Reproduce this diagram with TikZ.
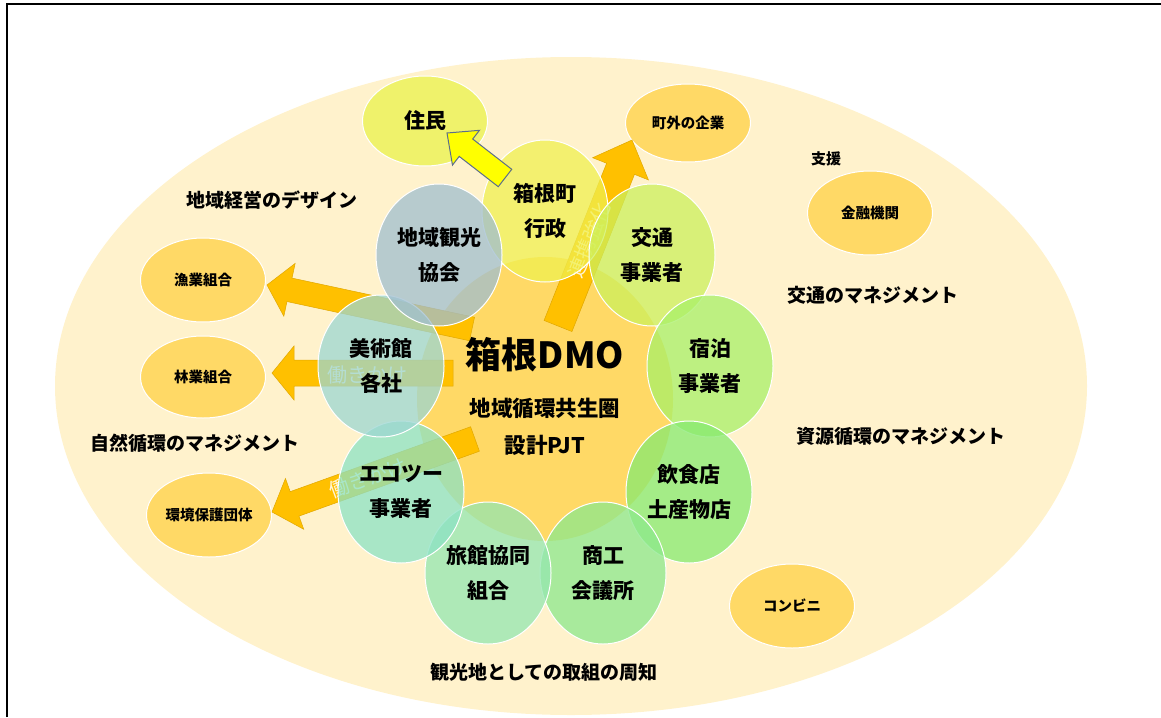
\documentclass[tikz,border=0pt]{standalone}
\usepackage{fontspec}
\setmainfont{Noto Sans CJK JP}
\usetikzlibrary{calc,shapes.geometric}
\definecolor{FieldClr}{HTML}{FFF2CC}
\definecolor{CoreClr}{HTML}{FFD966}
\definecolor{PartnerClr}{HTML}{FFD966}
\definecolor{ResidentClr}{HTML}{EFF26B}
\definecolor{ArrowClr}{HTML}{FFC000}
\definecolor{ArrowEdge}{HTML}{E0A800}
\definecolor{HintClr}{HTML}{FFFF00}
\definecolor{HintEdge}{HTML}{5B6E8C}
\definecolor{GyoseiClr}{HTML}{F0F050}
\definecolor{KotsuClr}{HTML}{CCF05C}
\definecolor{ShukuClr}{HTML}{A8F068}
\definecolor{InshokuClr}{HTML}{86EA70}
\definecolor{ShokoClr}{HTML}{8CE88C}
\definecolor{RyokanClr}{HTML}{94E6B0}
\definecolor{EcoClr}{HTML}{8CE2C4}
\definecolor{BijutsuClr}{HTML}{9CD6D2}
\definecolor{KankoClr}{HTML}{A0BED0}

% block arrow: [style]{tail}{tip}{shaft half width}{head half width}{head length}
\newcommand{\blockarrow}[6][]{%
  \coordinate (neck) at ($(#3)!#6!(#2)$);
  \path[#1] ($(#2)!#4!90:(#3)$) -- ($(neck)!#4!90:(#3)$) -- ($(neck)!#5!90:(#3)$) -- (#3)
    -- ($(neck)!#5!-90:(#3)$) -- ($(neck)!#4!-90:(#3)$) -- ($(#2)!#4!-90:(#3)$) -- cycle;
}

\tikzset{
  member/.style={ellipse, draw=white, line width=1pt, minimum width=126pt, minimum height=142pt,
    inner sep=0pt, fill opacity=0.75, text opacity=1, align=center, font=\bfseries\fontsize{21}{35}\selectfont},
  partner/.style={ellipse, draw=white, line width=1pt, fill=PartnerClr, minimum width=125pt,
    minimum height=84pt, inner sep=0pt, font=\bfseries\fontsize{14.5}{18}\selectfont},
  themelabel/.style={font=\bfseries\fontsize{19}{22}\selectfont},
  pushtext/.style={text=white, text opacity=0.85, font=\fontsize{20}{22}\selectfont},
  orangearrow/.style={fill=ArrowClr, draw=ArrowEdge, line width=0.5pt},
  hintarrow/.style={fill=HintClr, draw=HintEdge, line width=1pt},
}

\begin{document}
\begin{tikzpicture}[x=1pt,y=-1pt]
\useasboundingbox (0,0) rectangle (1161,717);

% field
\fill[FieldClr] (571,386) ellipse [x radius=516, y radius=329];
\draw[line width=2pt] (7,717) -- (7,4) -- (1161,4);

% partners around
\node[partner, fill=ResidentClr, minimum height=90pt, font=\bfseries\fontsize{21}{24}\selectfont] (jumin) at (425,121) {住民};
\node[partner, minimum height=78pt] (kigyo) at (688,123) {町外の企業};
\node[partner] (kinyu) at (870,213) {金融機関};
\node[partner] (conv) at (792,606) {コンビニ};
\node[partner] (gyogyo) at (203,280) {漁業組合};
\node[partner, minimum height=82pt] (ringyo) at (203,377) {林業組合};
\node[partner] (kankyo) at (209,515) {環境保護団体};

% core
\node[ellipse, fill=CoreClr, minimum width=256pt, minimum height=284pt] (dmo) at (545,399) {};

% arrows under the ring
\coordinate (kigyo-tail) at (558,326);
\coordinate (kigyo-tip) at (632,140);
\coordinate (gyogyo-tail) at (472,329);
\coordinate (gyogyo-tip) at (267,285);
\coordinate (ringyo-tail) at (453,373);
\coordinate (ringyo-tip) at (272,373);
\coordinate (kankyo-tail) at (475,439);
\coordinate (kankyo-tip) at (272,512);
\blockarrow[orangearrow]{kigyo-tail}{kigyo-tip}{15pt}{30pt}{31pt}
\blockarrow[orangearrow]{gyogyo-tail}{gyogyo-tip}{12pt}{27pt}{23pt}
\blockarrow[orangearrow]{ringyo-tail}{ringyo-tip}{13pt}{27pt}{22pt}
\blockarrow[orangearrow]{kankyo-tail}{kankyo-tip}{13pt}{27pt}{24pt}
\node[pushtext, rotate=68] (renkei) at (589,240) {連携強化};
\node[pushtext] (push1) at (367,375) {働きかけ};
\node[pushtext, rotate=20] (push2) at (368,478) {働きかけ};

% ring of members
\node[member, fill=GyoseiClr] (gyosei) at (545,211) {箱根町\\行政};
\node[member, fill=KotsuClr] (kotsu) at (652,255) {交通\\事業者};
\node[member, fill=ShukuClr] (shuku) at (710,366) {宿泊\\事業者};
\node[member, fill=InshokuClr] (inshoku) at (689,492) {飲食店\\土産物店};
\node[member, fill=ShokoClr] (shoko) at (603,573) {商工\\会議所};
\node[member, fill=RyokanClr] (ryokan) at (488,573) {旅館協同\\組合};
\node[member, fill=EcoClr] (eco) at (401,492) {エコツー\\事業者};
\node[member, fill=BijutsuClr] (bijutsu) at (381,366) {美術館\\各社};
\node[member, fill=KankoClr] (kanko) at (439,255) {地域観光\\協会};

% town to residents
\coordinate (jumin-tail) at (505,178);
\coordinate (jumin-tip) at (447,133);
\blockarrow[hintarrow]{jumin-tail}{jumin-tip}{11pt}{22pt}{24pt}

% core texts
\node[font=\bfseries\fontsize{36}{40}\selectfont] (dmotitle) at (545,355) {箱根DMO};
\node[align=center, font=\bfseries\fontsize{21.5}{37}\selectfont] (dmosub) at (545,427) {地域循環共生圏\\設計PJT};

% themes
\node[themelabel] (design) at (272,200) {地域経営のデザイン};
\node[themelabel] (shizen) at (195,443) {自然循環のマネジメント};
\node[themelabel] (kotsum) at (873,295) {交通のマネジメント};
\node[themelabel] (shigen) at (901,436) {資源循環のマネジメント};
\node[themelabel] (shuchi) at (544,672) {観光地としての取組の周知};
\node[font=\bfseries\fontsize{15}{18}\selectfont] (shien) at (826,159) {支援};

\end{tikzpicture}
\end{document}
